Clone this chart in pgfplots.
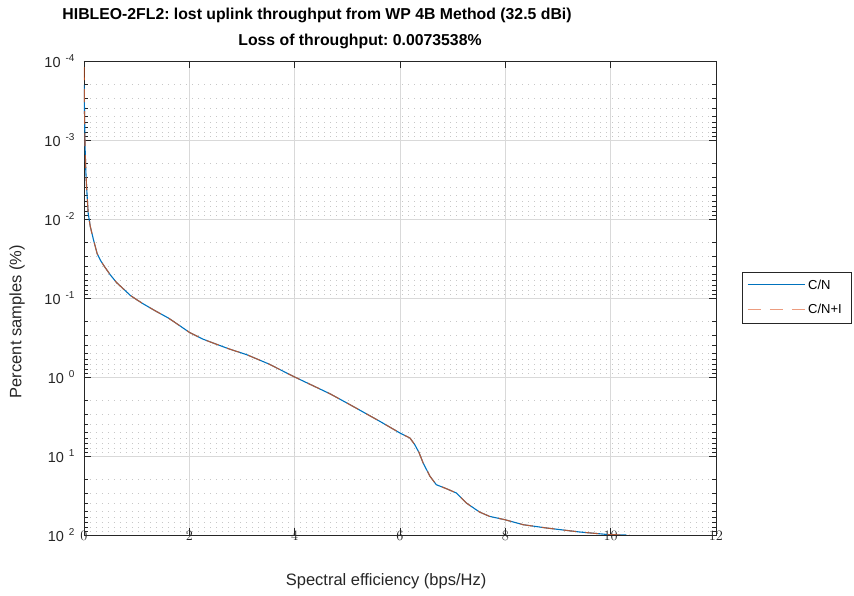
\documentclass[border=0pt]{standalone}
\usepackage{pgfplots}
\pgfplotsset{compat=1.18}
\usepackage{fontspec}
\setmainfont{Liberation Sans}
\frenchspacing
\definecolor{mblue}{HTML}{0072BD}
\definecolor{morange}{HTML}{D95319}
\definecolor{lorange}{HTML}{EC9C7F}
\definecolor{axc}{HTML}{262626}
\newcommand{\ytl}[1]{10\hspace{5pt}\raisebox{6pt}{\fontsize{10}{10}\selectfont #1}}

\pgfplotstableread{
x y
0.003 0.00020
0.010 0.00045
0.020 0.0012
0.035 0.0025
0.050 0.0040
0.080 0.0085
0.120 0.0125
0.180 0.0183
0.250 0.0275
0.320 0.0340
0.400 0.0410
0.500 0.0510
0.620 0.0640
0.750 0.0770
0.886 0.0935
1.100 0.1160
1.350 0.1450
1.600 0.1790
1.800 0.2200
2.000 0.2720
2.250 0.3300
2.450 0.3710
2.750 0.4400
3.090 0.5220
3.500 0.6800
4.000 1.0000
4.670 1.6300
5.050 2.2400
5.620 3.6500
6.000 5.1200
6.190 5.9200
6.280 7.1900
6.360 9.0000
6.440 12.300
6.570 18.100
6.690 23.100
6.880 25.900
7.070 29.400
7.260 39.400
7.510 51.200
7.700 58.100
7.990 64.000
8.340 74.100
8.780 81.500
9.410 91.600
9.980 99.100
10.30 100.00
}\cn

\pgfplotstableread{
x y
0.002 0.00012
0.010 0.00045
0.020 0.0012
0.035 0.0025
0.050 0.0040
0.080 0.0085
0.120 0.0125
0.180 0.0183
0.250 0.0275
0.320 0.0340
0.400 0.0410
0.500 0.0510
0.620 0.0640
0.750 0.0770
0.886 0.0935
1.100 0.1160
1.350 0.1450
1.600 0.1790
1.800 0.2200
2.000 0.2720
2.250 0.3300
2.450 0.3710
2.750 0.4400
3.090 0.5220
3.500 0.6800
4.000 1.0000
4.670 1.6300
5.050 2.2400
5.620 3.6500
6.000 5.1200
6.190 5.9200
6.280 7.1900
6.360 9.0000
6.440 12.300
6.570 18.100
6.690 23.100
6.880 25.900
7.070 29.400
7.260 39.400
7.510 51.200
7.700 58.100
7.990 64.000
8.340 74.100
8.780 81.500
9.410 91.600
9.980 99.100
10.36 100.00
}\cni

\begin{document}
\begin{tikzpicture}
\useasboundingbox (-84pt,-61pt) rectangle (770pt,535pt);
\begin{axis}[
  at={(0,0)}, anchor=south west,
  scale only axis, width=632pt, height=474pt,
  xmin=0, xmax=12, ymin=1e-4, ymax=1e2,
  ymode=log, y dir=reverse,
  xtick={0,2,4,6,8,10,12},
  ytick={1e-4,1e-3,1e-2,1e-1,1,10,100},
  yticklabels={\ytl{-4},\ytl{-3},\ytl{-2},\ytl{-1},\ytl{0},\ytl{1},\ytl{2}},
  xmajorgrids, ymajorgrids, yminorgrids,
  major grid style={black!15, line width=0.6pt},
  minor grid style={black!22, line width=0.8pt, dash pattern=on 1pt off 5pt},
  axis line style={axc, line width=0.8pt},
  tick style={axc, line width=0.6pt},
  major tick length=7pt, minor tick length=4pt,
  tick align=inside,
  ticklabel style={font=\fontsize{14.5}{16}\selectfont, text=axc},
  xticklabel style={anchor=center, yshift=-1pt},
  yticklabel style={xshift=-6pt},
  xlabel={Spectral efficiency (bps/Hz)},
  ylabel={Percent samples (\%)},
  label style={font=\fontsize{16.5}{18}\selectfont, text=axc},
  xlabel style={at={(axis description cs:0.478,0)}, anchor=north, yshift=-35pt},
  ylabel style={at={(axis description cs:-0.106,0.45)}, anchor=center},
  legend style={at={(1.041,0.555)}, anchor=north west, draw=axc, name=leg,
    font=\fontsize{13}{15}\selectfont, row sep=9pt, inner xsep=7pt, inner ysep=6pt},
  legend cell align=left,
  legend image code/.code={\path[draw=none] (0pt,0pt) -- (57pt,0pt);},
]
\addplot[mblue, line width=1.1pt] table[x=x,y=y]{\cn};
\addlegendentry{C/N}
\addplot[morange, line width=1.1pt, opacity=0.8, dash pattern=on 13pt off 9pt] table[x=x,y=y]{\cni};
\addlegendentry{C/N+I}
\end{axis}
\draw[mblue, line width=1.1pt] ([shift={(6pt,-13pt)}]leg.north west) -- ([shift={(63pt,-13pt)}]leg.north west);
\draw[lorange, line width=1.1pt, dash pattern=on 13pt off 9pt] ([shift={(6pt,-38pt)}]leg.north west) -- ([shift={(63pt,-38pt)}]leg.north west);
\node[font=\bfseries\fontsize{15.8}{18}\selectfont, text=black] at (233pt,520pt) {HIBLEO-2FL2: lost uplink throughput from WP 4B Method (32.5 dBi)};
\node[font=\bfseries\fontsize{15.8}{18}\selectfont, text=black] at (276pt,494pt) {Loss of throughput: 0.0073538\%};
\end{tikzpicture}
\end{document}
